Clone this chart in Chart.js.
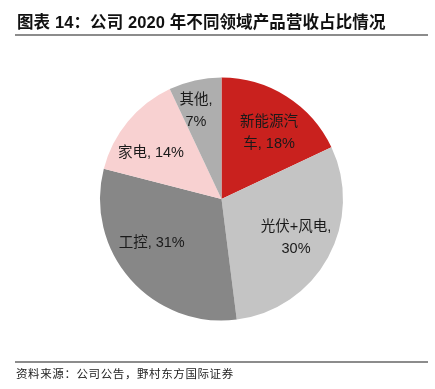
<!DOCTYPE html>
<html><head><meta charset="utf-8">
<script src="https://cdn.jsdelivr.net/npm/chart.js@4/dist/chart.umd.min.js"></script>
<style>
html,body{margin:0;padding:0;background:#fff;}
#wrap{position:relative;width:435px;height:389px;overflow:hidden;}
#c{position:absolute;left:0;top:0;}
#title{position:absolute;left:17px;top:9px;font:bold 16.5px "Liberation Sans","Noto Sans CJK SC",sans-serif;color:#111;white-space:nowrap;letter-spacing:0.1px;}
#l1{position:absolute;left:15px;width:413px;top:34px;height:2px;background:#8c8c8c;}
#l2{position:absolute;left:15px;width:413px;top:361px;height:2px;background:#8c8c8c;}
#src{position:absolute;left:16px;top:365px;font:11.5px "Noto Sans CJK SC",sans-serif;color:#222;white-space:nowrap;letter-spacing:0.6px;}
</style></head>
<body><div id="wrap">
<canvas id="c" width="435" height="389"></canvas>
<div id="title">图表 14：公司 2020 年不同领域产品营收占比情况</div>
<div id="l1"></div><div id="l2"></div>
<div id="src">资料来源：公司公告，野村东方国际证券</div>
</div>
<script>
const categories = ["新能源汽车", "光伏+风电", "工控", "家电", "其他"];
const values = [18, 30, 31, 14, 7];
const labelLines = [["新能源汽", "车, 18%"], ["光伏+风电,", "30%"], ["工控, 31%"], ["家电, 14%"], ["其他,", "7%"]];
const colors = ["#C9211E", "#C4C4C4", "#878787", "#F8D1D1", "#AEAEAE"];

const labelPlugin = {
  id: 'sliceLabels',
  afterDatasetsDraw(chart, args, opts) {
    const ctx = chart.ctx;
    const meta = chart.getDatasetMeta(0);
    const nudge = opts.nudge || [];
    ctx.save();
    ctx.font = '14.5px "Liberation Sans","Noto Sans CJK SC",sans-serif';
    ctx.fillStyle = '#1a1a1a';
    ctx.textAlign = 'center';
    ctx.textBaseline = 'middle';
    meta.data.forEach((arc, i) => {
      const p = arc.getProps(['x','y','startAngle','endAngle','outerRadius'], true);
      const mid = (p.startAngle + p.endAngle) / 2;
      const r = p.outerRadius * 0.7;
      const n = nudge[i] || [0, 0];
      const cx = p.x + Math.cos(mid) * r + n[0];
      const cy = p.y + Math.sin(mid) * r + n[1];
      const lines = labelLines[i];
      const lh = 22;
      lines.forEach((t, k) => {
        ctx.fillText(t, cx, cy + (k - (lines.length - 1) / 2) * lh);
      });
    });
    ctx.restore();
  }
};

new Chart(document.getElementById('c'), {
  type: 'pie',
  data: {
    labels: categories,
    datasets: [{ data: values, backgroundColor: colors, borderWidth: 0 }]
  },
  options: {
    responsive: false,
    animation: false,
    layout: { padding: { left: 100, right: 92, top: 77, bottom: 68 } },
    plugins: {
      legend: { display: false },
      tooltip: { enabled: false },
      sliceLabels: { nudge: [[2, 6], [0, -2], [-6, -12], [-5, 8], [-7, -5]] }
    }
  },
  plugins: [labelPlugin]
});
</script>
</body></html>
